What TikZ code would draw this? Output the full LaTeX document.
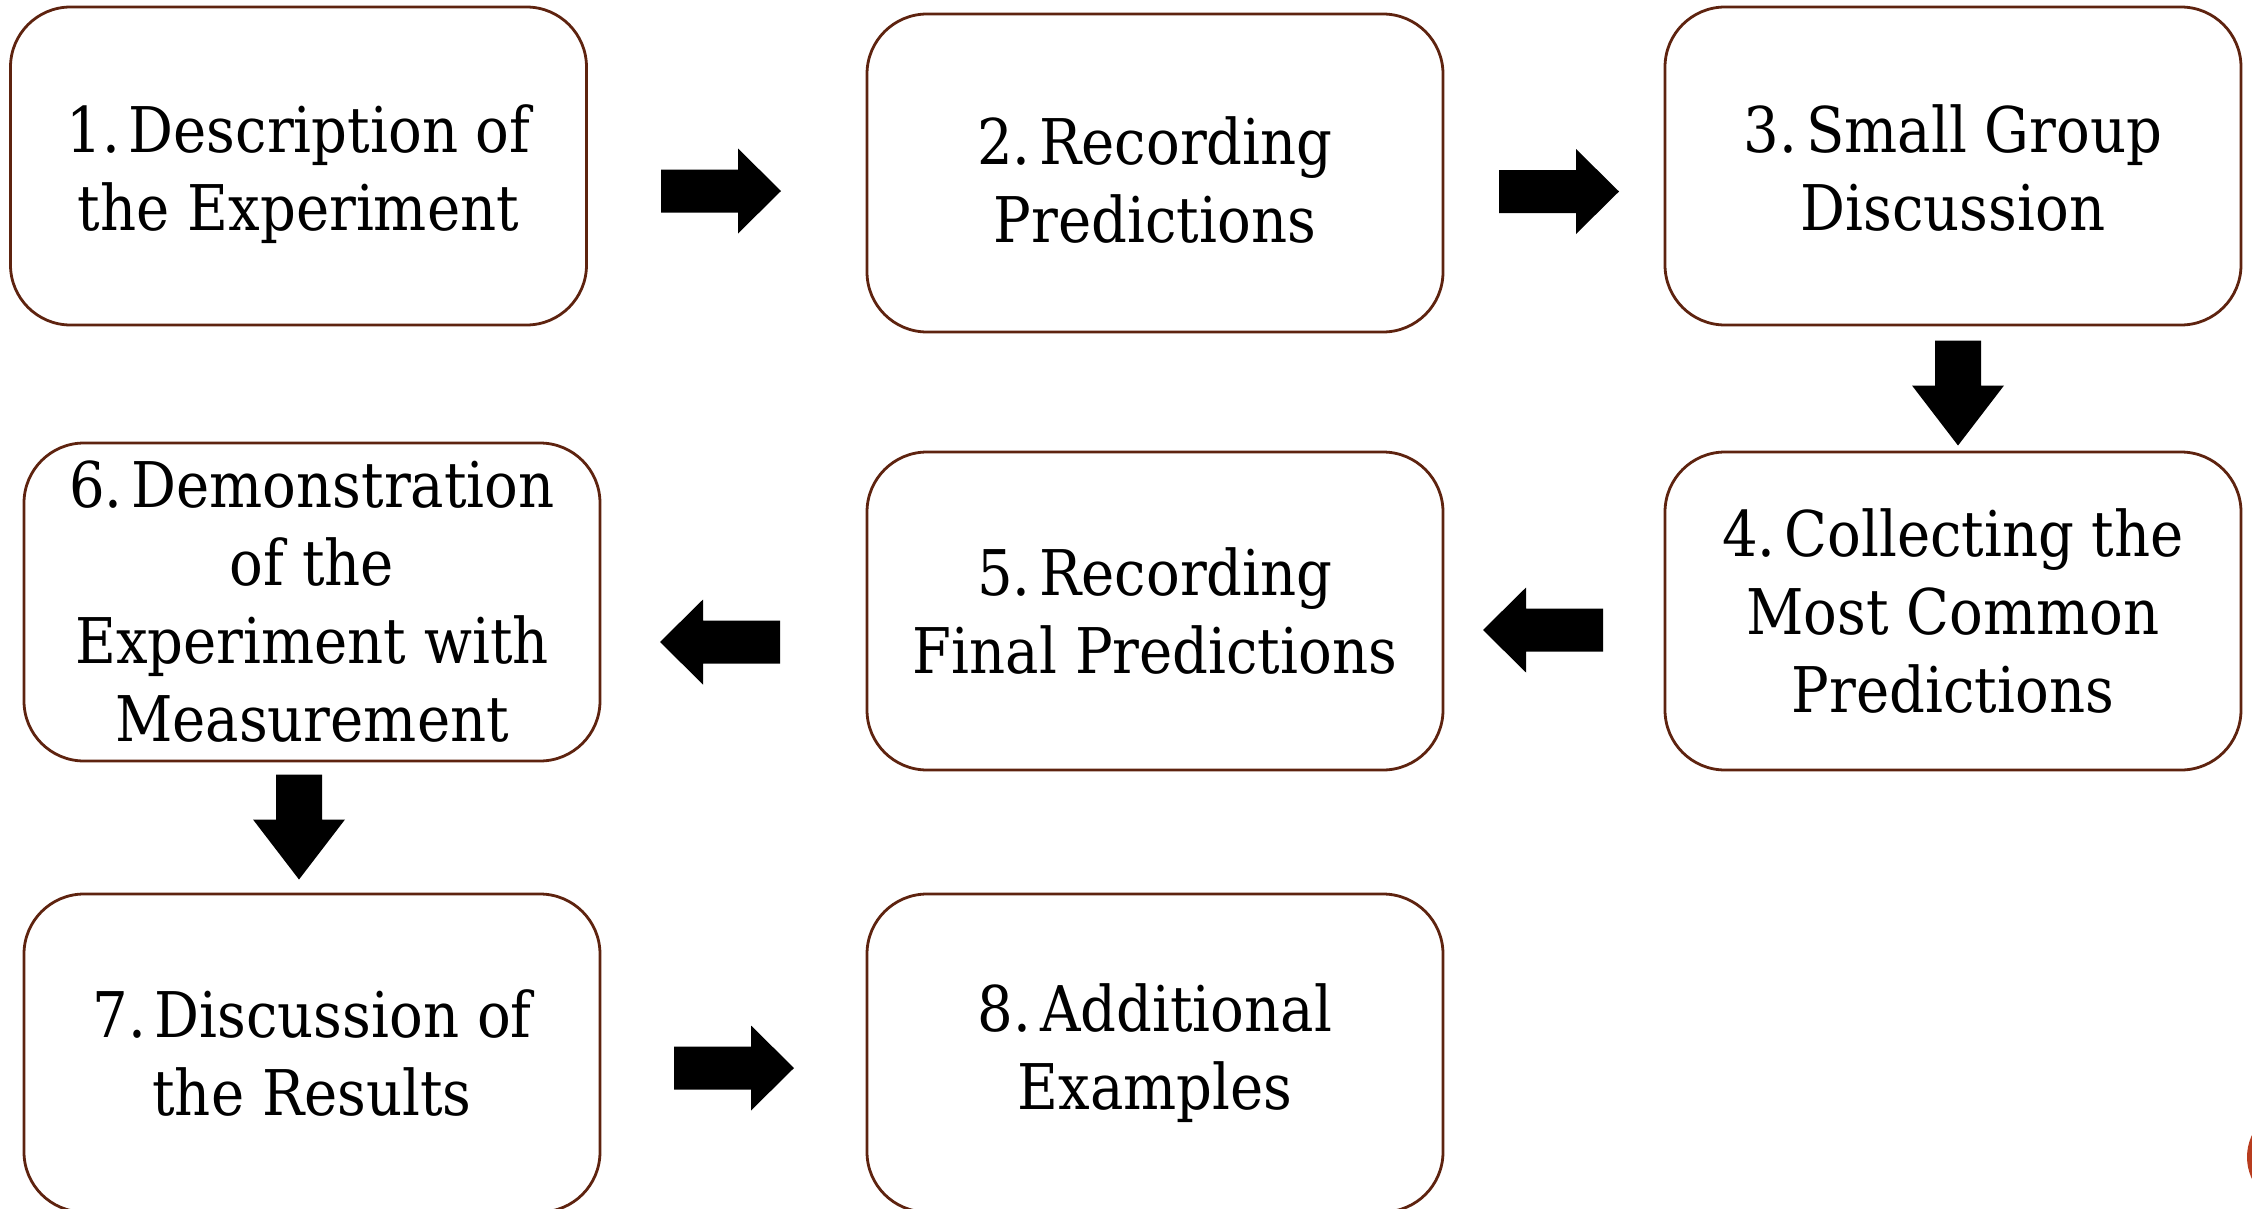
\documentclass[tikz,border=0pt]{standalone}
\usepackage{fontspec}
\setmainfont{DejaVu Serif}[FakeStretch=0.89]
\definecolor{boxline}{RGB}{94,35,15}
\definecolor{dotred}{RGB}{184,60,30}
\newcommand{\nsp}{\hspace{0.14em}}
\newcommand{\lowered}[2]{\raisebox{-#1}[\height][\depth]{\begin{tabular}{@{}c@{}}#2\end{tabular}}}
\begin{document}
\begin{tikzpicture}[x=1pt,y=-1pt,
  stepbox/.style={draw=boxline, line width=2.8pt, rounded corners=60pt, fill=white,
    minimum width=576pt, minimum height=318pt, inner sep=0pt, align=center,
    font=\fontsize{63}{78}\selectfont},
  hbarrow/.pic={\fill[black] (-60,-21.5) -- (17,-21.5) -- (17,-42.5) -- (60,0) -- (17,42.5) -- (17,21.5) -- (-60,21.5) -- cycle;},
  vbarrow/.pic={\fill[black] (-52.5,-23) -- (-7.5,-23) -- (-7.5,-46) -- (52.5,0) -- (-7.5,46) -- (-7.5,23) -- (-52.5,23) -- cycle;}
]
\useasboundingbox (0,0) rectangle (2252,1208);
\clip (0,0) rectangle (2252,1208);
\fill[white] (0,0) rectangle (2252,1208);

\node[stepbox] (b1) at (298.5,166) {\lowered{10pt}{1.\nsp Description of\\the Experiment}};
\node[stepbox] (b2) at (1155,173) {\lowered{15pt}{2.\nsp Recording\\Predictions}};
\node[stepbox] (b3) at (1953,166) {\lowered{10pt}{3.\nsp Small Group\\Discussion}};
\node[stepbox] (b4) at (1953,611) {4.\nsp Collecting the\\Most Common\\Predictions};
\node[stepbox] (b5) at (1155,611) {5.\nsp Recording\\Final Predictions};
\node[stepbox] (b6) at (312,602) {6.\nsp Demonstration\\of the\\Experiment with\\Measurement};
\node[stepbox] (b7) at (312,1053) {7.\nsp Discussion of\\the Results};
\node[stepbox] (b8) at (1155,1053) {8.\nsp Additional\\Examples};

\coordinate (a12) at (721,191);
\coordinate (a23) at (1559,191.5);
\coordinate (a34) at (1958,393);
\coordinate (a45) at (1543,630);
\coordinate (a56) at (720,642);
\coordinate (a67) at (299,827);
\coordinate (a78) at (734,1068);

\pic at (a12) {hbarrow};
\pic at (a23) {hbarrow};
\pic[rotate=-90] at (a34) {vbarrow};
\pic[rotate=180] at (a45) {hbarrow};
\pic[rotate=180] at (a56) {hbarrow};
\pic[rotate=-90] at (a67) {vbarrow};
\pic at (a78) {hbarrow};

\fill[dotred] (2298,1157) circle (51);
\end{tikzpicture}
\end{document}
